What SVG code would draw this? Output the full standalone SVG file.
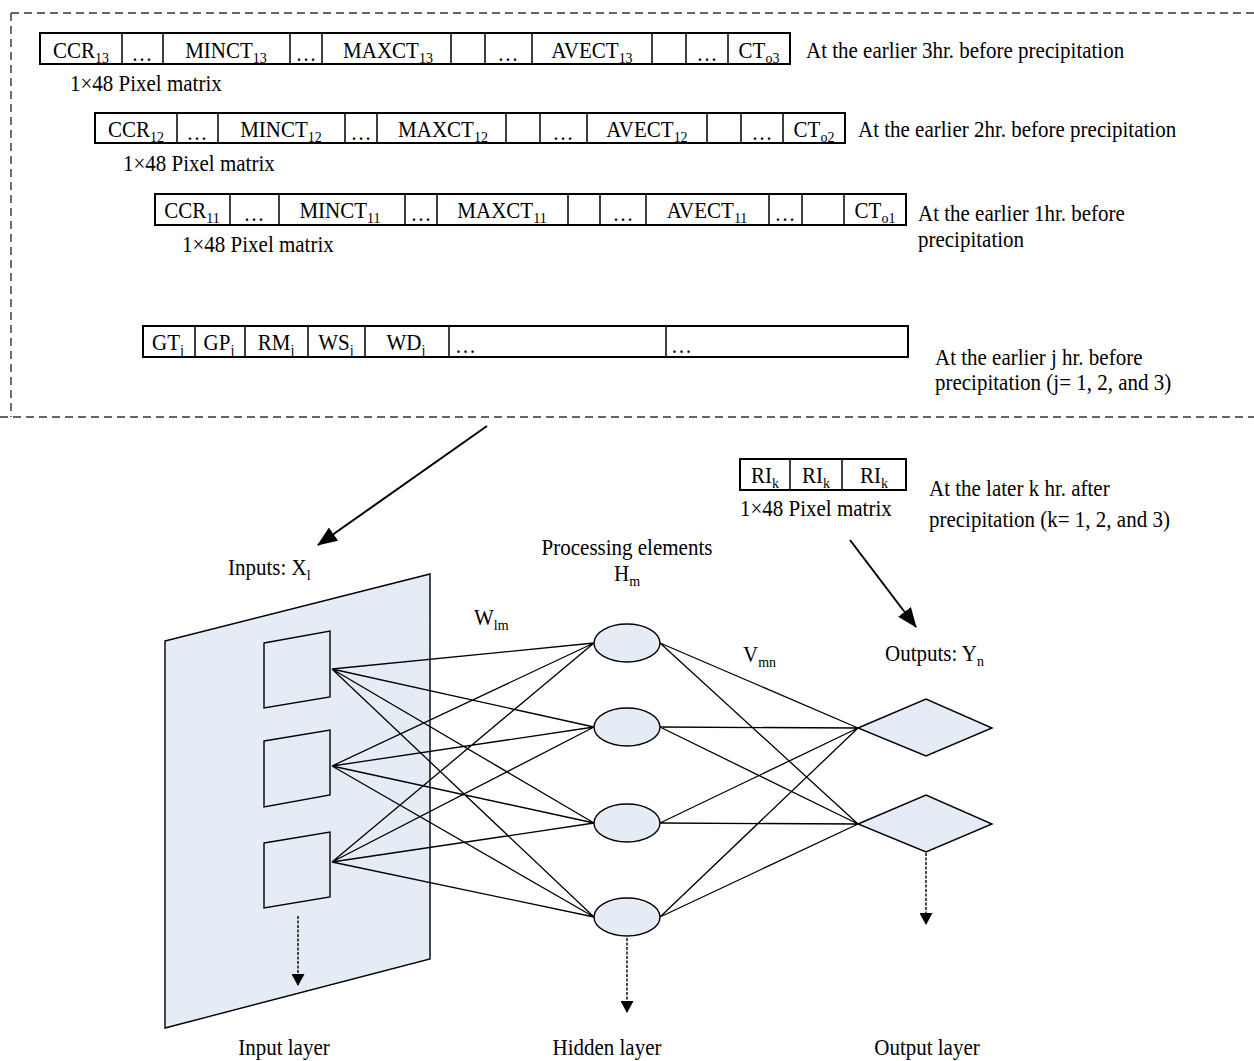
<svg xmlns="http://www.w3.org/2000/svg" width="1254" height="1061" viewBox="0 0 1254 1061">
  <style>
    .t { font-family: "Liberation Serif", "Times New Roman", serif; font-size: 21px; fill: #000;
         transform: scaleY(1.1); transform-box: fill-box; transform-origin: center; }
    .m { text-anchor: middle; }
    .sub { font-size: 14px; }
    .cell { fill: #fff; stroke: #000; stroke-width: 2; }
    .div { stroke: #000; stroke-width: 1.5; }
    .fill { fill: #E5ECF6; stroke: #000; stroke-width: 1.4; }
    .edge { stroke: #000; stroke-width: 1.3; fill: none; }
    .arrow { stroke: #000; stroke-width: 2; fill: none; marker-end: url(#head); }
    .dots { stroke: #000; stroke-width: 1.4; stroke-dasharray: 3 1.5; fill: none; marker-end: url(#small); }
    .dash { stroke: #333; stroke-width: 1.4; stroke-dasharray: 8 5; fill: none; }
  </style>
  <defs>
    <marker id="head" viewBox="0 0 20 16" refX="19" refY="8" markerWidth="20" markerHeight="16" markerUnits="userSpaceOnUse" orient="auto">
      <path d="M0,0 L20,8 L0,16 z" fill="#000"/>
    </marker>
    <marker id="small" viewBox="0 0 12 13" refX="11" refY="6.5" markerWidth="12" markerHeight="13" markerUnits="userSpaceOnUse" orient="auto">
      <path d="M0,0 L12,6.5 L0,13 z" fill="#000"/>
    </marker>
  </defs>

  <!-- dashed frame around the input matrices -->
  <path class="dash" d="M11,13 H1254 M11,13 V417 M0,417 H1254"/>

  <!-- matrix for 3 hr before -->
  <g id="row3hr">
    <rect class="cell" x="40" y="33" width="750" height="31"/>
    <path class="div" d="M122,33V64 M163,33V64 M290,33V64 M322,33V64 M451,33V64 M485,33V64 M532,33V64 M652,33V64 M686,33V64 M728,33V64"/>
    <text class="t m" x="81" y="57">CCR<tspan class="sub" dy="5">13</tspan></text>
    <text class="t m" x="142" y="60">…</text>
    <text class="t m" x="226" y="57">MINCT<tspan class="sub" dy="5">13</tspan></text>
    <text class="t m" x="306" y="60">…</text>
    <text class="t m" x="388" y="57">MAXCT<tspan class="sub" dy="5">13</tspan></text>
    <text class="t m" x="508" y="60">…</text>
    <text class="t m" x="592" y="57">AVECT<tspan class="sub" dy="5">13</tspan></text>
    <text class="t m" x="707" y="60">…</text>
    <text class="t m" x="759" y="57">CT<tspan class="sub" dy="5">o3</tspan></text>
    <text class="t" x="806" y="57">At the earlier 3hr. before precipitation</text>
    <text class="t" x="70" y="90">1×48 Pixel matrix</text>
  </g>

  <!-- matrix for 2 hr before -->
  <g id="row2hr">
    <rect class="cell" x="95" y="113" width="750" height="30"/>
    <path class="div" d="M177,113V143 M218,113V143 M345,113V143 M377,113V143 M506,113V143 M540,113V143 M587,113V143 M707,113V143 M741,113V143 M783,113V143"/>
    <text class="t m" x="136" y="136">CCR<tspan class="sub" dy="5">12</tspan></text>
    <text class="t m" x="197" y="139">…</text>
    <text class="t m" x="281" y="136">MINCT<tspan class="sub" dy="5">12</tspan></text>
    <text class="t m" x="361" y="139">…</text>
    <text class="t m" x="443" y="136">MAXCT<tspan class="sub" dy="5">12</tspan></text>
    <text class="t m" x="563" y="139">…</text>
    <text class="t m" x="647" y="136">AVECT<tspan class="sub" dy="5">12</tspan></text>
    <text class="t m" x="762" y="139">…</text>
    <text class="t m" x="814" y="136">CT<tspan class="sub" dy="5">o2</tspan></text>
    <text class="t" x="858" y="136">At the earlier 2hr. before precipitation</text>
    <text class="t" x="123" y="170">1×48 Pixel matrix</text>
  </g>

  <!-- matrix for 1 hr before -->
  <g id="row1hr">
    <rect class="cell" x="155" y="194" width="751" height="31"/>
    <path class="div" d="M230,194V225 M279,194V225 M405,194V225 M437,194V225 M568,194V225 M600,194V225 M646,194V225 M769,194V225 M802,194V225 M844,194V225"/>
    <text class="t m" x="192" y="217">CCR<tspan class="sub" dy="5">11</tspan></text>
    <text class="t m" x="254" y="220">…</text>
    <text class="t m" x="340" y="217">MINCT<tspan class="sub" dy="5">11</tspan></text>
    <text class="t m" x="421" y="220">…</text>
    <text class="t m" x="502" y="217">MAXCT<tspan class="sub" dy="5">11</tspan></text>
    <text class="t m" x="623" y="220">…</text>
    <text class="t m" x="707" y="217">AVECT<tspan class="sub" dy="5">11</tspan></text>
    <text class="t m" x="785" y="220">…</text>
    <text class="t m" x="875" y="217">CT<tspan class="sub" dy="5">o1</tspan></text>
    <text class="t" x="918" y="220">At the earlier 1hr. before</text>
    <text class="t" x="918" y="246">precipitation</text>
    <text class="t" x="182" y="251">1×48 Pixel matrix</text>
  </g>

  <!-- surface weather variables -->
  <g id="rowWeather">
    <rect class="cell" x="143" y="326" width="765" height="31"/>
    <path class="div" d="M195,326V357 M245,326V357 M308,326V357 M365,326V357 M449,326V357 M666,326V357"/>
    <text class="t m" x="168" y="349">GT<tspan class="sub" dy="5">j</tspan></text>
    <text class="t m" x="219" y="349">GP<tspan class="sub" dy="5">j</tspan></text>
    <text class="t m" x="276" y="349">RM<tspan class="sub" dy="5">j</tspan></text>
    <text class="t m" x="336" y="349">WS<tspan class="sub" dy="5">j</tspan></text>
    <text class="t m" x="406" y="349">WD<tspan class="sub" dy="5">j</tspan></text>
    <text class="t" x="455" y="352">…</text>
    <text class="t" x="671" y="352">…</text>
    <text class="t" x="935" y="364">At the earlier j hr. before</text>
    <text class="t" x="935" y="389">precipitation (j= 1, 2, and 3)</text>
  </g>

  <!-- target rainfall matrix -->
  <g id="rowTarget">
    <rect class="cell" x="740" y="459" width="166" height="31"/>
    <path class="div" d="M790,459V490 M842,459V490"/>
    <text class="t m" x="765" y="482">RI<tspan class="sub" dy="5">k</tspan></text>
    <text class="t m" x="816" y="482">RI<tspan class="sub" dy="5">k</tspan></text>
    <text class="t m" x="874" y="482">RI<tspan class="sub" dy="5">k</tspan></text>
    <text class="t" x="740" y="515">1×48 Pixel matrix</text>
    <text class="t" x="929" y="495">At the later k hr. after</text>
    <text class="t" x="929" y="526">precipitation (k= 1, 2, and 3)</text>
  </g>

  <!-- input layer plane -->
  <g id="inputLayer">
    <polygon class="fill" points="165,641 430,574 430,959 165,1028"/>
    <polygon class="fill" points="264,643 330,631 330,697 264,708"/>
    <polygon class="fill" points="264,741 330,730 330,795 264,807"/>
    <polygon class="fill" points="264,843 330,832 330,897 264,908"/>
    <text class="t" x="228" y="574">Inputs: X<tspan class="sub" dy="5">l</tspan></text>
    <text class="t m" x="284" y="1054">Input layer</text>
  </g>

  <!-- hidden layer -->
  <g id="hiddenLayer">
    <ellipse class="fill" cx="627" cy="643" rx="33" ry="19"/>
    <ellipse class="fill" cx="627" cy="727" rx="33" ry="19"/>
    <ellipse class="fill" cx="627" cy="823" rx="33" ry="19"/>
    <ellipse class="fill" cx="627" cy="917" rx="33" ry="19"/>
    <text class="t m" x="627" y="554">Processing elements</text>
    <text class="t" x="614" y="580">H<tspan class="sub" dy="5">m</tspan></text>
    <text class="t m" x="607" y="1054">Hidden layer</text>
  </g>

  <!-- output layer -->
  <g id="outputLayer">
    <polygon class="fill" points="858,728 926,699 992,728 926,756"/>
    <polygon class="fill" points="858,824 926,795 992,824 926,852"/>
    <text class="t" x="885" y="660">Outputs: Y<tspan class="sub" dy="5">n</tspan></text>
    <text class="t m" x="927" y="1054">Output layer</text>
  </g>

  <!-- weight labels -->
  <text class="t" x="474" y="624">W<tspan class="sub" dy="5">lm</tspan></text>
  <text class="t" x="743" y="661">V<tspan class="sub" dy="5">mn</tspan></text>

  <!-- connectors -->
  <g id="connectors">
    <!-- input to hidden -->
    <path class="edge" d="M332,669 L594,643 M332,669 L594,727 M332,669 L594,823 M332,669 L594,917
                          M332,766 L594,643 M332,766 L594,727 M332,766 L594,823 M332,766 L594,917
                          M332,862 L594,643 M332,862 L594,727 M332,862 L594,823 M332,862 L594,917"/>
    <!-- hidden to output -->
    <path class="edge" d="M660,643 L858,728 M660,643 L858,824
                          M660,727 L858,728 M660,727 L858,824
                          M660,823 L858,728 M660,823 L858,824
                          M660,917 L858,728 M660,917 L858,824"/>
    <!-- data flow arrows -->
    <path class="arrow" d="M487,426 L318,545"/>
    <path class="arrow" d="M850,540 L916,627"/>
    <path class="dots" d="M298,916 V985"/>
    <path class="dots" d="M627,938 V1012"/>
    <path class="dots" d="M926,853 V924"/>
  </g>
</svg>
